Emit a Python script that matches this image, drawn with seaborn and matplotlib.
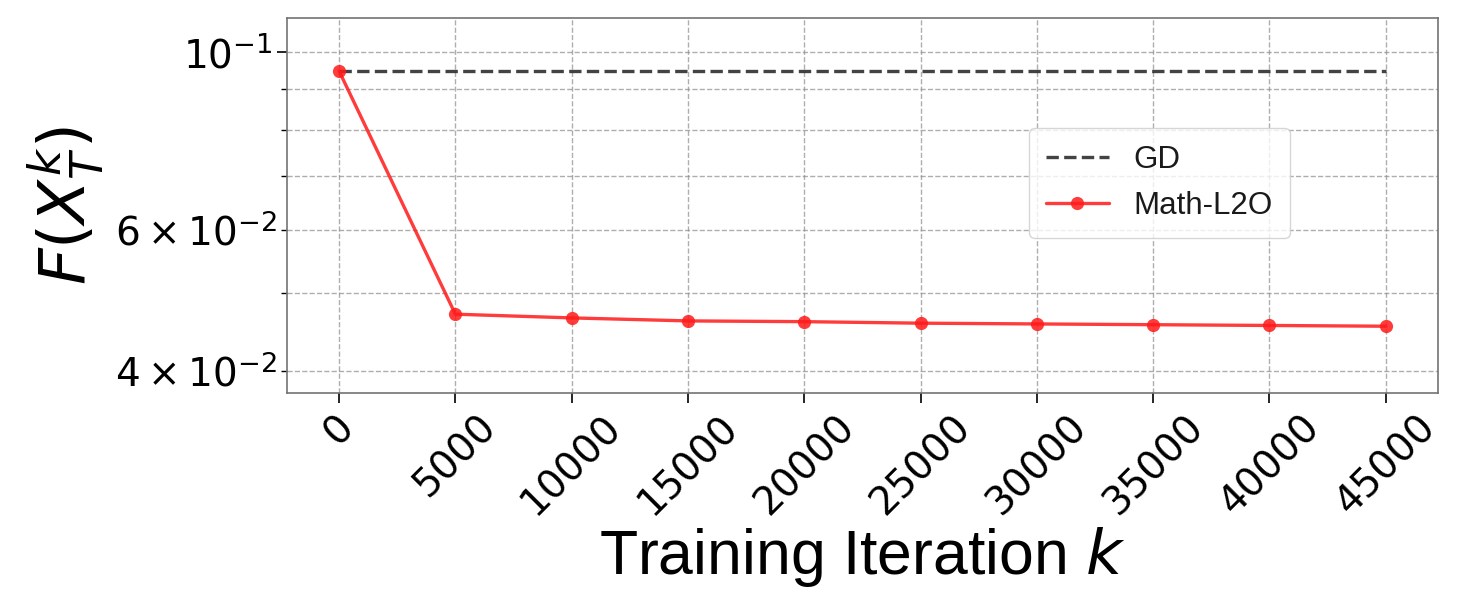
import numpy as np
import pandas as pd
import matplotlib
matplotlib.use("Agg")
import matplotlib.pyplot as plt
import seaborn as sns

# data
iterations = [0, 5000, 10000, 15000, 20000, 25000, 30000, 35000, 40000, 45000]
gd_value = [0.0947] * len(iterations)
l2o_value = [0.0947, 0.0471, 0.0466, 0.0462, 0.0461, 0.0459, 0.0458, 0.0457, 0.0456, 0.0455]

df = pd.DataFrame({"iter": iterations, "GD": gd_value, "Math-L2O": l2o_value})

sns.set_style("ticks")
plt.rcParams["font.family"] = ["DejaVu Sans"]
plt.rcParams["text.color"] = "black"
plt.rcParams["axes.labelcolor"] = "black"
plt.rcParams["xtick.color"] = "black"
plt.rcParams["ytick.color"] = "black"

fig = plt.figure(figsize=(14.78, 6.16), dpi=100)
ax = fig.add_subplot(111)
fig.subplots_adjust(left=0.194, right=0.973, top=0.971, bottom=0.362)

sns.lineplot(data=df, x="iter", y="GD", ax=ax, color="#222222", alpha=0.85,
             linestyle="--", linewidth=2.4, label="GD")
sns.lineplot(data=df, x="iter", y="Math-L2O", ax=ax, color="#ff1a1a", alpha=0.85,
             marker="o", markersize=9.5, markeredgewidth=0, linewidth=2.4,
             label="Math-L2O")

ax.set_yscale("log")
ax.set_ylim(0.03756, 0.1103)
ax.set_xlim(-2250, 47250)
ax.set_xticks(iterations)

ax.grid(True, which="both", linestyle="--", color="0.55", alpha=0.7, linewidth=1.0)

ax.tick_params(axis="both", which="both", labelsize=28)
ax.tick_params(axis="x", rotation=45)
ax.tick_params(which="major", length=7, width=1.2)
ax.tick_params(which="minor", length=4, width=1.0)

for sp in ax.spines.values():
    sp.set_color("0.45")
    sp.set_linewidth(1.2)

ax.set_xlabel("Training Iteration $k$", fontsize=45, family="Liberation Sans", labelpad=2)
ax.set_ylabel("$F(X_T^k)$", fontsize=46, labelpad=6)

leg = ax.legend(loc="center", bbox_to_anchor=(0.758, 0.56),
                prop={"family": "Liberation Sans", "size": 22.5},
                frameon=True, fancybox=True, framealpha=0.8, edgecolor="0.8",
                handlelength=2.0, borderpad=0.55, labelspacing=0.5)
for t in leg.get_texts():
    t.set_color("0.1")

fig.savefig("out.png", dpi=100)
